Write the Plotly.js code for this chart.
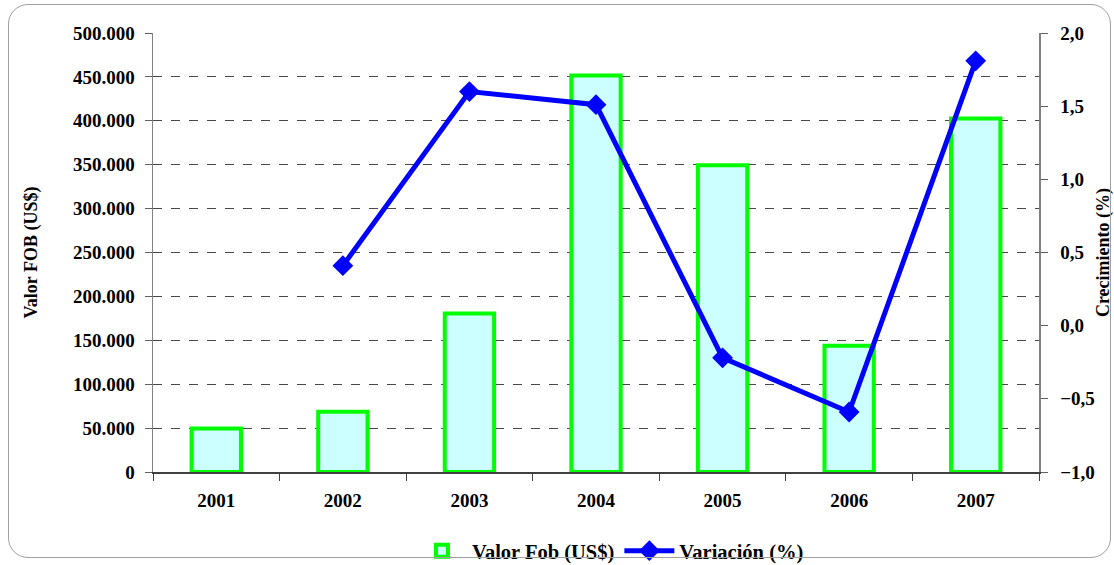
<!DOCTYPE html>
<html>
<head>
<meta charset="utf-8">
<script src="https://cdn.plot.ly/plotly-3.0.1.min.js"></script>
<style>
  html, body { margin: 0; padding: 0; background: #fff; }
  #wrap { position: relative; width: 1114px; height: 565px; }
  #chart { position: absolute; left: 0; top: 0; width: 1114px; height: 565px; }
  #frame { position: absolute; left: 8px; top: 4px; width: 1103px; height: 554px;
           border: 1.5px solid #a0a0a0; border-radius: 20px; pointer-events: none; box-sizing: border-box; }
</style>
</head>
<body>
<div id="wrap">
  <div id="chart"></div>
  <div id="frame"></div>
</div>
<script>
const years = ['2001', '2002', '2003', '2004', '2005', '2006', '2007'];
const valorFob = [49500, 68500, 180500, 451700, 349300, 143800, 402600];
const variacion = [null, 0.41, 1.60, 1.51, -0.22, -0.59, 1.81];
const barName = 'Valor Fob (US$)';
const lineName = 'Variación (%)';
const leftTitle = 'Valor FOB (US$)';
const rightTitle = 'Crecimiento (%)';

const serif = 'Liberation Serif';

const traces = [
  {
    type: 'bar',
    name: barName,
    x: years,
    y: valorFob,
    width: 0.39,
    marker: { color: '#CCFFFF', line: { color: '#00FF00', width: 4 } },
    hoverinfo: 'x+y'
  },
  {
    type: 'scatter',
    mode: 'lines+markers',
    name: lineName,
    x: years,
    y: variacion,
    yaxis: 'y2',
    line: { color: '#0000FF', width: 5 },
    marker: { symbol: 'diamond', size: 16, color: '#0000FF' }
  }
];

const tickFont = { family: serif, size: 19, color: '#000', weight: 700 };
const titleFont = { family: serif, size: 18, color: '#000', weight: 700 };

const layout = {
  width: 1114,
  height: 565,
  margin: { l: 153, r: 75, t: 33, b: 93 },
  paper_bgcolor: 'rgba(0,0,0,0)',
  plot_bgcolor: 'rgba(0,0,0,0)',
  separators: ',.',
  showlegend: true,
  font: { family: serif },
  xaxis: {
    type: 'category',
    showline: true,
    linecolor: '#404040',
    linewidth: 1.5,
    ticks: 'outside',
    tickson: 'boundaries',
    ticklen: 7,
    tickcolor: '#404040',
    showgrid: false,
    ticklabelstandoff: 11,
    tickfont: tickFont,
    automargin: false
  },
  yaxis: {
    range: [0, 500000],
    dtick: 50000,
    tickformat: ',d',
    showgrid: true,
    gridcolor: '#484848',
    griddash: 'dash',
    gridwidth: 1,
    zeroline: false,
    showline: true,
    linecolor: '#808080',
    linewidth: 1.5,
    ticks: 'outside',
    ticklen: 7,
    tickcolor: '#606060',
    ticklabelstandoff: 6,
    tickfont: tickFont,
    automargin: false,
    title: { text: leftTitle, font: titleFont, standoff: 30 }
  },
  yaxis2: {
    overlaying: 'y',
    side: 'right',
    range: [-1, 2],
    dtick: 0.5,
    tickformat: '.1f',
    showgrid: false,
    zeroline: false,
    showline: true,
    linecolor: '#808080',
    linewidth: 1.5,
    ticks: 'outside',
    ticklen: 7,
    tickcolor: '#606060',
    ticklabelstandoff: 9,
    tickfont: tickFont,
    automargin: false,
    title: { text: rightTitle, font: titleFont, standoff: 4 }
  },
  legend: {
    orientation: 'h',
    xref: 'container',
    yref: 'container',
    x: 0.548,
    xanchor: 'center',
    y: 0.025,
    yanchor: 'middle',
    font: { family: serif, size: 20.5, color: '#000', weight: 700 },
    itemwidth: 50
  }
};

Plotly.newPlot('chart', traces, layout, { displayModeBar: false, staticPlot: true });
</script>
</body>
</html>
